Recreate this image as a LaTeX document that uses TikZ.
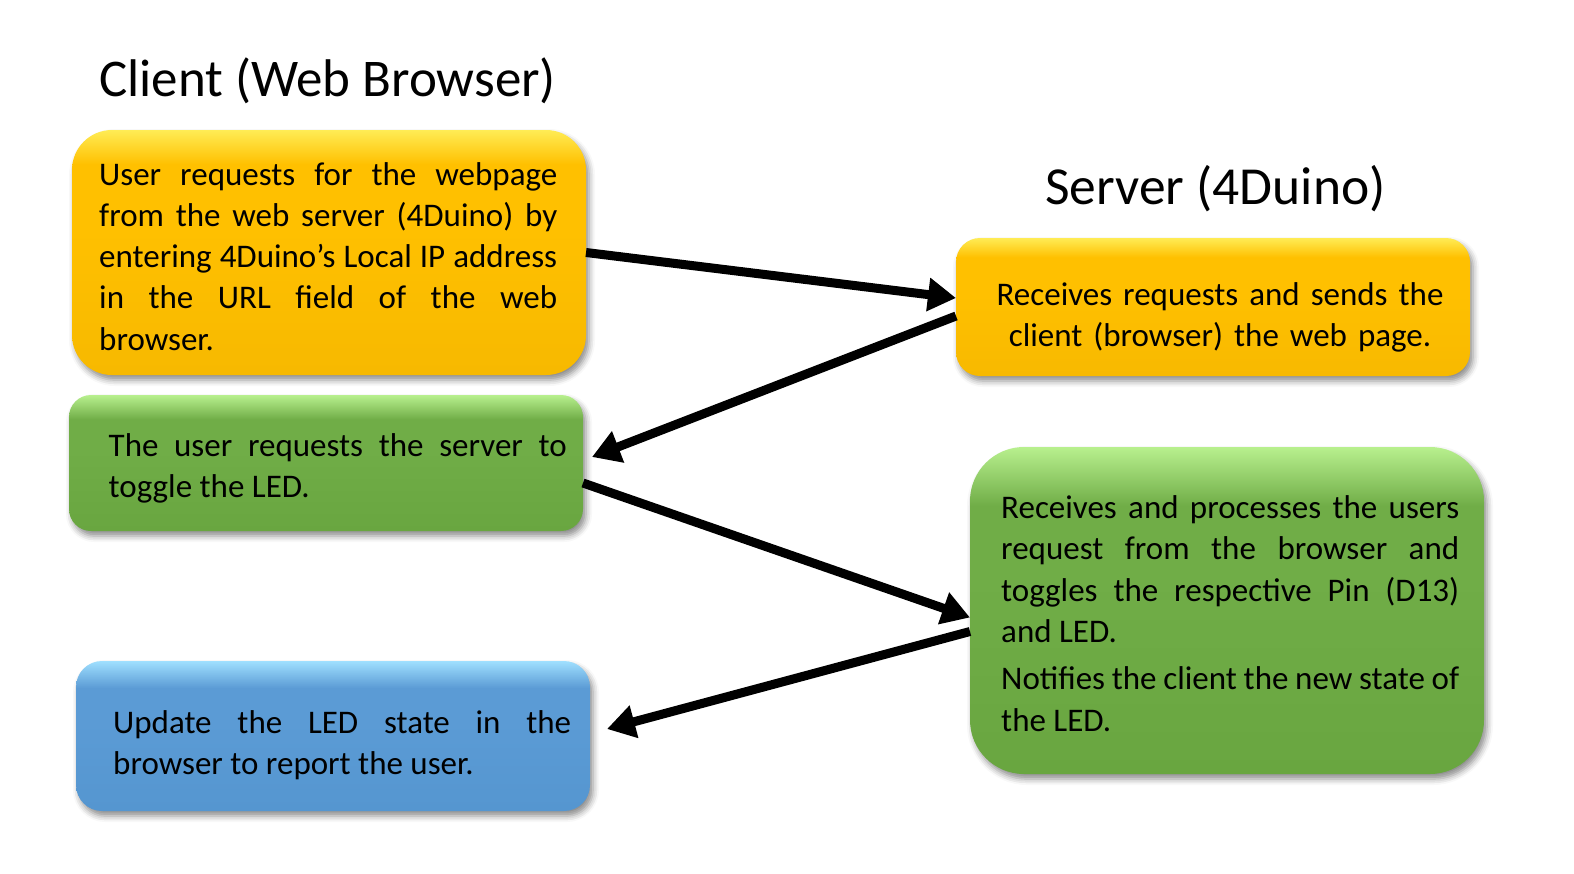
\documentclass[tikz,border=0pt]{standalone}
\usepackage{fontspec}
\setmainfont{Carlito}
\usetikzlibrary{arrows.meta,shadows.blur,calc}
\definecolor{ylwBot}{HTML}{F7B900}
\definecolor{ylwMain}{HTML}{FFC000}
\definecolor{ylwTop}{HTML}{FFEC55}
\definecolor{grnBot}{HTML}{69A640}
\definecolor{grnMain}{HTML}{70AD47}
\definecolor{grnTop}{HTML}{B8F08E}
\definecolor{bluBot}{HTML}{5596D0}
\definecolor{bluMain}{HTML}{5B9BD5}
\definecolor{bluTop}{HTML}{A0E0FF}
\pgfdeclareverticalshading{ylwShade}{100bp}{color(0bp)=(ylwBot); color(25bp)=(ylwBot); color(55bp)=(ylwMain); color(68bp)=(ylwMain); color(75bp)=(ylwTop); color(100bp)=(ylwTop)}
\pgfdeclareverticalshading{grnShade}{100bp}{color(0bp)=(grnBot); color(25bp)=(grnBot); color(55bp)=(grnMain); color(66bp)=(grnMain); color(75bp)=(grnTop); color(100bp)=(grnTop)}
\pgfdeclareverticalshading{bluShade}{100bp}{color(0bp)=(bluBot); color(25bp)=(bluBot); color(55bp)=(bluMain); color(66bp)=(bluMain); color(75bp)=(bluTop); color(100bp)=(bluTop)}
\begin{document}
\begin{tikzpicture}[x=1pt,y=-1pt,
  panel/.style={rectangle, draw=none, inner sep=0pt, outer sep=0pt, minimum width=514pt,
    blur shadow={shadow xshift=3pt, shadow yshift=-5pt, shadow blur radius=6pt, shadow opacity=45}},
  ylw/.style={panel, shading=ylwShade},
  grn/.style={panel, shading=grnShade},
  blu/.style={panel, shading=bluShade},
  body/.style={inner sep=0pt, text width=458pt, align=justify, anchor=base west,
    font=\fontsize{33pt}{41.3pt}\selectfont},
  ttl/.style={inner sep=0pt, anchor=base west, font=\fontsize{53pt}{60pt}\selectfont},
  conn/.style={line width=9pt, -{Triangle[length=28pt,width=32pt]}}]
\useasboundingbox (0,0) rectangle (1574,873);

% titles
\node[ttl] (tc) at (99,96) {Client (Web Browser)};
\node[ttl, font=\fontsize{53.5pt}{60pt}\selectfont] (ts) at (1045,204) {Server (4Duino)};

% boxes
\node[ylw, rounded corners=40pt, minimum height=245pt] (b1) at (329,252.5) {};
\node[ylw, rounded corners=24pt, minimum height=138pt] (s1) at (1213,307) {};
\node[grn, rounded corners=22pt, minimum height=136pt] (c2) at (326,463) {};
\node[grn, rounded corners=54pt, minimum height=327pt] (s2) at (1227,610.5) {};
\node[blu, rounded corners=26pt, minimum height=150pt] (b3) at (333,736) {};

% texts
\node[body] (t1) at (99,185) {User requests for the webpage\linebreak from the web server (4Duino) by\linebreak entering 4Duino’s Local IP address\linebreak in the URL field of the web\linebreak browser.};
\node[body, align=center, anchor=base] (t2) at (1220,305) {Receives requests and sends the\\ client (browser) the web page.};
\node[body] (t3) at (108.5,456) {The user requests the server to\linebreak toggle the LED.};
\node[body, font=\fontsize{33pt}{41.6pt}\selectfont] (t4) at (1001,518) {Receives and processes the users\linebreak request from the browser and\linebreak toggles the respective Pin (D13)\linebreak and LED.\par\vspace{5pt}Notifies the client the new state of\linebreak the LED.};
\node[body] (t5) at (113,733) {Update the LED state in the\linebreak browser to report the user.};

% connectors
\draw[conn] (b1.east) -- ([yshift=9pt]s1.west);
\draw[conn] ([yshift=-9pt]s1.west) -- ([xshift=9pt,yshift=6pt]c2.east);
\draw[conn] ([yshift=-20pt]c2.east) -- ([yshift=-7pt]s2.west);
\draw[conn] ([yshift=-21pt]s2.west) -- ([xshift=17pt,yshift=7pt]b3.east);
\end{tikzpicture}
\end{document}
